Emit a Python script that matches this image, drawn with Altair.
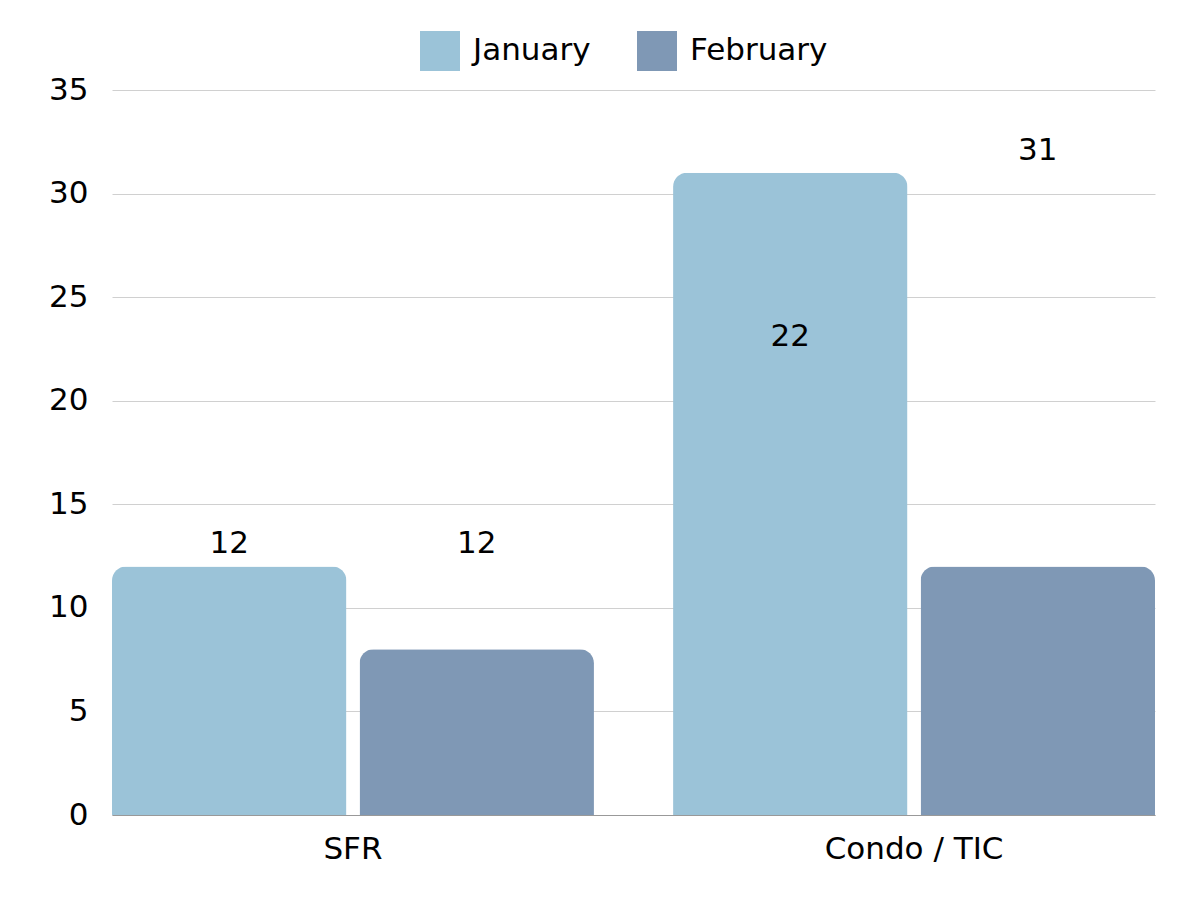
import altair as alt
import pandas as pd

categories = ["SFR", "Condo / TIC"]
months = ["January", "February"]
jan_values = [12, 31]
feb_values = [8, 12]
jan_labels = [12, 22]
feb_labels = [12, 31]
colors = ["#9BC3D8", "#7F98B5"]

rows = []
for i, c in enumerate(categories):
    rows.append({"category": c, "month": "January", "value": jan_values[i], "label": jan_labels[i]})
    rows.append({"category": c, "month": "February", "value": feb_values[i], "label": feb_labels[i]})
df = pd.DataFrame(rows)

FONT = "DejaVu Sans"
FS = 31

x = alt.X("category:N", sort=categories, title=None,
          scale=alt.Scale(paddingInner=0.141, paddingOuter=0),
          axis=alt.Axis(labelAngle=0, labelFontSize=FS, labelColor="#000000",
                        labelPadding=19, ticks=False, domain=True,
                        domainColor="#999999", grid=False, labelFont=FONT))
xo = alt.XOffset("month:N", sort=months,
                 scale=alt.Scale(paddingInner=0.053, paddingOuter=0))

bars = alt.Chart(df).mark_bar(cornerRadiusTopLeft=14, cornerRadiusTopRight=14).encode(
    x=x,
    xOffset=xo,
    y=alt.Y("value:Q", title=None,
            scale=alt.Scale(domain=[0, 35], nice=False),
            axis=alt.Axis(values=[0, 5, 10, 15, 20, 25, 30, 35], labelFontSize=FS,
                          labelColor="#000000", labelPadding=24, ticks=False,
                          domain=False, gridColor="#d0d0d0", labelFont=FONT)),
    color=alt.Color("month:N", sort=months,
                    scale=alt.Scale(domain=months, range=colors),
                    legend=alt.Legend(title=None, orient="none", direction="horizontal",
                                      legendX=308, legendY=-59,
                                      symbolType="square", symbolSize=1600,
                                      symbolStrokeWidth=0, labelFontSize=FS,
                                      labelFont=FONT, labelColor="#000000",
                                      labelOffset=13, columnPadding=46)),
)

texts = alt.Chart(df).mark_text(baseline="bottom", dy=-6, fontSize=FS, font=FONT,
                                color="#000000").encode(
    x=alt.X("category:N", sort=categories),
    xOffset=alt.XOffset("month:N", sort=months),
    y=alt.Y("label:Q"),
    text=alt.Text("label:Q"),
)

chart = alt.layer(bars, texts).properties(
    width=1043, height=725,
    autosize=alt.AutoSizeParams(type="none"),
    padding={"left": 104, "top": 82, "right": 37, "bottom": 77},
).configure(font=FONT).configure_view(stroke=None, strokeWidth=0)

chart.save("out.html", embed_options={"renderer": "svg", "actions": False})
